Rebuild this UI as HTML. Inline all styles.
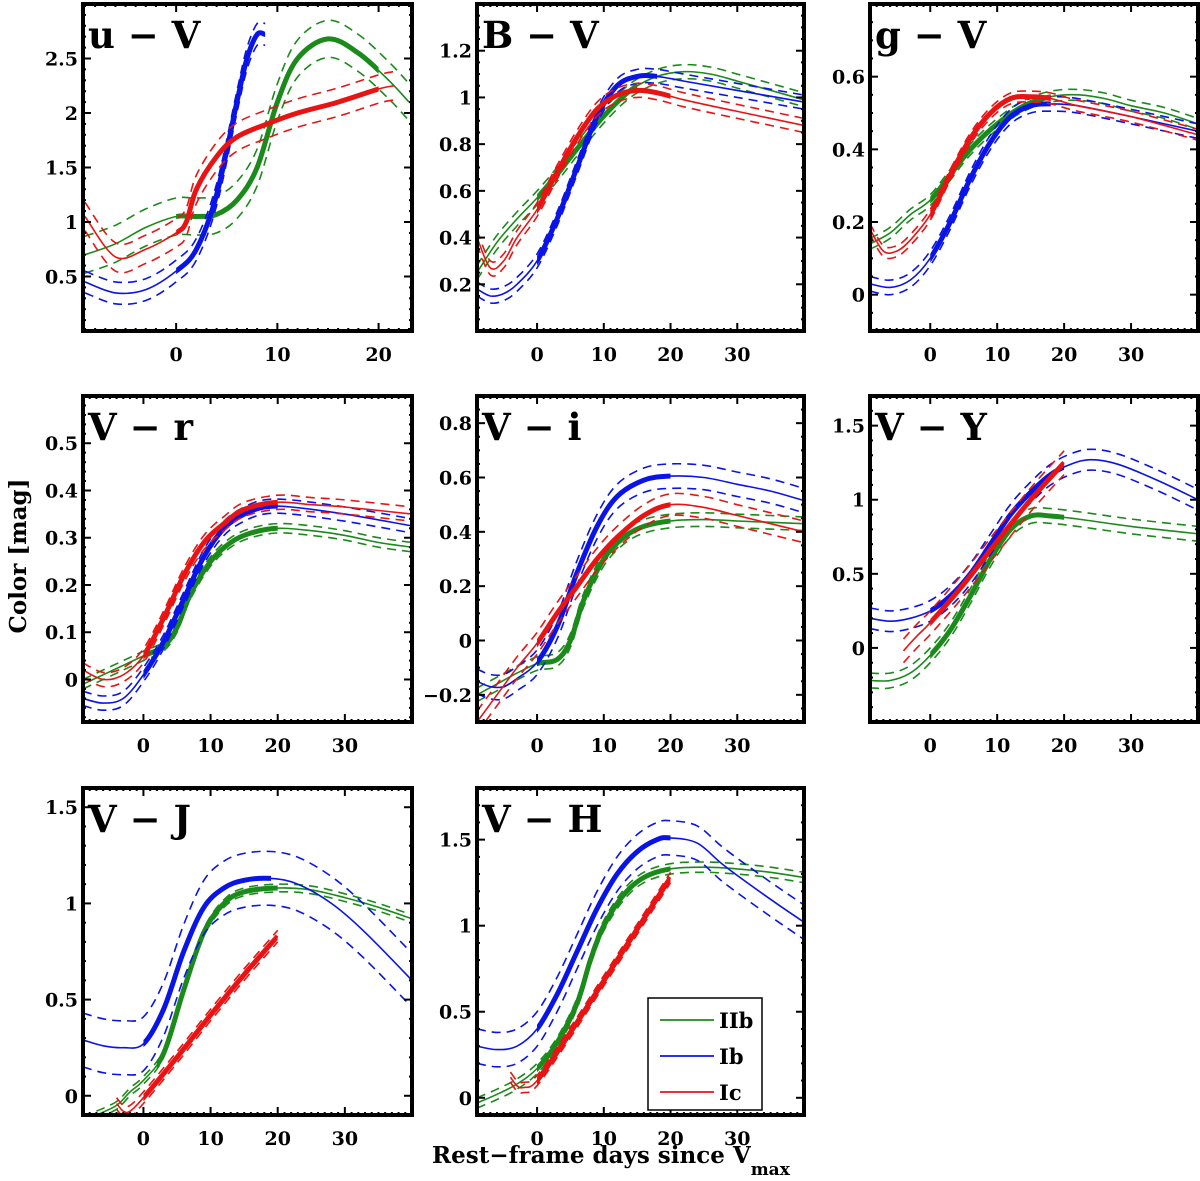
<!DOCTYPE html>
<html><head><meta charset="utf-8"><style>
html,body{margin:0;padding:0;background:#fff;}
svg{display:block;}
text{font-family:"DejaVu Serif","Liberation Serif",serif;font-weight:bold;fill:#000;}
</style></head><body>
<svg id="chart" width="1200" height="1181" viewBox="0 0 1200 1181">
<text x="26" y="556" transform="rotate(-90 26 556)" text-anchor="middle" font-size="23">Color [mag]</text>
<text x="432" y="1163" font-size="23">Rest−frame days since V<tspan font-size="17" dy="12">max</tspan></text>
</svg>
<script>
const panelNames = ["u − V","B − V","g − V","V − r","V − i","V − Y","V − J","V − H"];
const panelXRange = [[-9.2,23.3],[-9,40],[-9,40],[-9,40],[-9,40],[-9,40],[-9,40],[-9,40]];
const panelYRange = [[0,3],[0,1.4],[-0.1,0.8],[-0.09,0.6],[-0.3,0.9],[-0.5,1.7],[-0.1,1.6],[-0.1,1.8]];
const panelYTicks = [[0.5,1,1.5,2,2.5],[0.2,0.4,0.6,0.8,1,1.2],[0,0.2,0.4,0.6],[0,0.1,0.2,0.3,0.4,0.5],[-0.2,0,0.2,0.4,0.6,0.8],[0,0.5,1,1.5],[0,0.5,1,1.5],[0,0.5,1,1.5]];
const panelYTickLabels = [["0.5","1","1.5","2","2.5"],["0.2","0.4","0.6","0.8","1","1.2"],["0","0.2","0.4","0.6"],["0","0.1","0.2","0.3","0.4","0.5"],["−0.2","0","0.2","0.4","0.6","0.8"],["0","0.5","1","1.5"],["0","0.5","1","1.5"],["0","0.5","1","1.5"]];
const panelYMinor = [0.1,0.05,0.05,0.02,0.05,0.1,0.1,0.1];
const xTicks = [0,10,20,30];
const xTickLabels = ["0","10","20","30"];
const typeNames = ["IIb","Ib","Ic"];
const typeColors = ["#1a8a1a","#0a14e6","#e81414"];

const uV_days = [[-9,-6,-3,0,2,4,6,8,10,12,15,18,21,23],[-9,-6,-3,0,2,4,6,7,8,8.8],[-9,-6,-3,0,1,2,4,6,9,12,16,20,21.5]];
const uV_mean = [[0.7,0.8,0.95,1.05,1.05,1.07,1.2,1.5,2.1,2.5,2.68,2.55,2.3,2.1],[0.45,0.35,0.38,0.55,0.75,1.25,2.1,2.5,2.72,2.72],[1.05,0.68,0.75,0.9,1.0,1.3,1.6,1.78,1.9,2.0,2.1,2.22,2.25]];
const uV_err = [0.17,0.1,0.13];
const uV_thick = [[0,20],[0,8.8],[0,20]];

const BV_days = [[-9,-6,-3,0,3,6,10,14,18,22,26,30,35,40],[-9,-7,-5,-3,0,3,6,9,12,15,18,22,30,40],[-9,-7,-5,-3,0,3,6,9,12,15,18,22,30,40]];
const BV_mean = [[0.25,0.38,0.48,0.57,0.67,0.78,0.92,1.03,1.09,1.11,1.1,1.07,1.03,0.99],[0.18,0.15,0.16,0.2,0.3,0.48,0.7,0.92,1.05,1.09,1.09,1.07,1.03,0.98],[0.4,0.27,0.3,0.4,0.52,0.68,0.83,0.95,1.01,1.03,1.02,0.99,0.94,0.88]];
const BV_err = [0.03,0.03,0.03];
const BV_thick = [[0,15],[0,18],[0,20]];

const gV_days = [[-9,-6,-3,0,3,6,10,14,18,22,26,30,35,40],[-9,-6,-3,0,3,6,9,12,15,18,22,30,40],[-9,-7,-5,-3,0,3,6,9,12,15,18,22,30,40]];
const gV_mean = [[0.14,0.17,0.22,0.26,0.33,0.4,0.47,0.52,0.545,0.55,0.54,0.52,0.5,0.47],[0.03,0.02,0.04,0.1,0.2,0.32,0.42,0.49,0.52,0.525,0.52,0.49,0.45],[0.18,0.12,0.12,0.15,0.22,0.33,0.43,0.5,0.54,0.545,0.54,0.52,0.49,0.44]];
const gV_err = [0.015,0.02,0.015];
const gV_thick = [[0,18],[0,18],[0,18]];

const Vr_days = [[-9,-6,-3,0,3,5,7,10,13,16,20,25,30,35,40],[-9,-6,-3,0,3,6,9,12,15,18,22,30,40],[-9,-6,-3,0,3,6,9,12,15,20,25,30,40]];
const Vr_mean = [[-0.01,0.01,0.03,0.05,0.07,0.11,0.18,0.25,0.29,0.31,0.32,0.315,0.305,0.29,0.28],[-0.04,-0.05,-0.04,0.01,0.08,0.17,0.26,0.32,0.35,0.365,0.365,0.35,0.325],[0.02,0.0,0.01,0.05,0.13,0.22,0.29,0.33,0.36,0.375,0.37,0.365,0.35]];
const Vr_err = [0.01,0.015,0.015];
const Vr_thick = [[0,20],[0,20],[0,20]];

const Vi_days = [[-9,-6,-3,0,3,5,7,10,13,16,20,25,30,35,40],[-9,-7,-5,-3,0,3,6,9,12,16,20,25,30,35,40],[-9,-6,-3,0,3,6,9,12,16,20,25,30,35,40]];
const Vi_mean = [[-0.2,-0.16,-0.12,-0.085,-0.07,0.0,0.15,0.3,0.38,0.42,0.44,0.445,0.44,0.435,0.43],[-0.15,-0.17,-0.17,-0.14,-0.08,0.05,0.25,0.42,0.53,0.59,0.605,0.6,0.575,0.55,0.515],[-0.3,-0.2,-0.1,-0.01,0.1,0.2,0.3,0.38,0.46,0.5,0.49,0.46,0.43,0.4]];
const Vi_err = [0.025,0.045,0.04];
const Vi_thick = [[0,20],[0,20],[0,20]];

const VY_days = [[-9,-6,-3,0,3,6,9,12,15,18,22,30,40],[-9,-6,-3,0,3,6,9,12,15,18,21,24,28,34,40],[-4,-2,0,5,10,15,20]];
const VY_mean = [[-0.22,-0.22,-0.17,-0.05,0.12,0.35,0.6,0.8,0.89,0.89,0.87,0.82,0.77],[0.2,0.18,0.2,0.25,0.35,0.5,0.7,0.9,1.05,1.17,1.24,1.27,1.24,1.13,1.0],[-0.02,0.08,0.17,0.43,0.72,1.0,1.25]];
const VY_err = [0.05,0.07,0.08];
const VY_thick = [[0,20],[0,20],[0,20]];

const VJ_days = [[-7,-4,-2,0,3,6,9,12,15,20,25,30,35,40],[-9,-6,-3,0,3,6,9,12,15,19,23,28,33,40],[-4,-3,-2,0,5,10,15,20]];
const VJ_mean = [[-0.1,-0.05,0.02,0.08,0.22,0.55,0.85,1.0,1.06,1.08,1.07,1.03,0.98,0.92],[0.29,0.26,0.25,0.27,0.45,0.75,0.98,1.08,1.12,1.13,1.1,1.0,0.85,0.6],[-0.04,-0.08,-0.08,-0.01,0.2,0.42,0.63,0.83]];
const VJ_err = [0.02,0.14,0.03];
const VJ_thick = [[2,20],[0,19],[0,20]];

const VH_days = [[-9,-6,-3,0,3,6,8,10,13,16,20,25,30,35,40],[-9,-6,-3,0,3,6,9,12,15,18,20,24,28,34,40],[-4,-3,-2,0,5,10,15,20]];
const VH_mean = [[-0.03,0.02,0.08,0.17,0.32,0.55,0.8,1.0,1.18,1.28,1.33,1.34,1.33,1.31,1.28],[0.3,0.28,0.3,0.4,0.6,0.85,1.1,1.3,1.43,1.5,1.51,1.48,1.35,1.18,1.02],[0.12,0.07,0.06,0.1,0.38,0.68,0.98,1.28]];
const VH_err = [0.03,0.1,0.03];
const VH_thick = [[0,20],[0,20],[0,20]];

const allDays = [uV_days,BV_days,gV_days,Vr_days,Vi_days,VY_days,VJ_days,VH_days];
const allMean = [uV_mean,BV_mean,gV_mean,Vr_mean,Vi_mean,VY_mean,VJ_mean,VH_mean];
const allErr = [uV_err,BV_err,gV_err,Vr_err,Vi_err,VY_err,VJ_err,VH_err];
const allThick = [uV_thick,BV_thick,gV_thick,Vr_thick,Vi_thick,VY_thick,VJ_thick,VH_thick];

const colLeft = [83,477,870], colRight = [412,804,1198];
const rowTop = [4,396,788], rowBottom = [331,722,1115];
const NS = "http://www.w3.org/2000/svg";
const svg = document.getElementById('chart');
function mk(tag, attrs, parent){ const e=document.createElementNS(NS,tag); for(const k in attrs) e.setAttribute(k,attrs[k]); (parent||svg).appendChild(e); return e; }

function smoothPath(pts){
  if(pts.length<2) return "";
  let d = "M"+pts[0][0].toFixed(1)+","+pts[0][1].toFixed(1);
  for(let i=0;i<pts.length-1;i++){
    const p0=pts[Math.max(0,i-1)], p1=pts[i], p2=pts[i+1], p3=pts[Math.min(pts.length-1,i+2)];
    const c1x=p1[0]+(p2[0]-p0[0])/6, c1y=p1[1]+(p2[1]-p0[1])/6;
    const c2x=p2[0]-(p3[0]-p1[0])/6, c2y=p2[1]-(p3[1]-p1[1])/6;
    d+=" C"+c1x.toFixed(1)+","+c1y.toFixed(1)+" "+c2x.toFixed(1)+","+c2y.toFixed(1)+" "+p2[0].toFixed(1)+","+p2[1].toFixed(1);
  }
  return d;
}
const defs = mk('defs',{});

for(let p=0;p<8;p++){
  const r=Math.floor(p/3), c=p%3;
  const L=colLeft[c], R=colRight[c], T=rowTop[r], B=rowBottom[r];
  const [x0,x1]=panelXRange[p], [y0,y1]=panelYRange[p];
  const X=v=>L+(v-x0)/(x1-x0)*(R-L);
  const Y=v=>B-(v-y0)/(y1-y0)*(B-T);
  const g = mk('g',{});
  
  
  const cp = mk('clipPath',{id:'clip'+p},defs);
  mk('rect',{x:L,y:T,width:R-L,height:B-T},cp);
  const plot = mk('g',{'clip-path':'url(#clip'+p+')'},g);
  
  
  for(let t=0;t<3;t++){
    const days=allDays[p][t], mean=allMean[p][t], err=allErr[p][t], th=allThick[p][t];
    const col=typeColors[t];
    const sg = mk('g',{},plot);
    
    
    const mid = days.map((d,i)=>[X(d),Y(mean[i])]);
    const up = days.map((d,i)=>[X(d),Y(mean[i]+err)]);
    const lo = days.map((d,i)=>[X(d),Y(mean[i]-err)]);
    const e1=mk('path',{d:smoothPath(up),fill:'none',stroke:col,'stroke-width':1.6,'stroke-dasharray':'9,6'},sg);
    
    
    const e2=mk('path',{d:smoothPath(lo),fill:'none',stroke:col,'stroke-width':1.6,'stroke-dasharray':'9,6'},sg);
    
    
    const m=mk('path',{d:smoothPath(mid),fill:'none',stroke:col,'stroke-width':1.6},sg);
    
    
    const tc = mk('clipPath',{id:'th'+p+'_'+t},defs);
    mk('rect',{x:X(th[0]),y:T-10,width:X(th[1])-X(th[0]),height:B-T+20},tc);
    const tk=mk('path',{d:smoothPath(mid),fill:'none',stroke:col,'stroke-width':5,'clip-path':'url(#th'+p+'_'+t+')'},sg);
    
    
  }
  const tg = mk('g',{stroke:'#000','stroke-width':2},g);
  
  
  for(let d=Math.ceil(x0); d<=x1; d++){
    const major = d%10===0, len = major?8:3, xx=X(d);
    mk('line',{x1:xx,y1:B,x2:xx,y2:B-len},tg); mk('line',{x1:xx,y1:T,x2:xx,y2:T+len},tg);
  }
  const mn=panelYMinor[p];
  for(let k=Math.ceil(y0/mn-1e-6); k*mn<=y1+1e-9; k++){
    const v=k*mn, yy=Y(v);
    const major = panelYTicks[p].some(tv=>Math.abs(tv-v)<1e-6);
    const len = major?8:3;
    mk('line',{x1:L,y1:yy,x2:L+len,y2:yy},tg); mk('line',{x1:R,y1:yy,x2:R-len,y2:yy},tg);
  }
  const fr=mk('rect',{x:L,y:T,width:R-L,height:B-T,fill:'none',stroke:'#000','stroke-width':4},g);
  
  
  panelYTicks[p].forEach((v,i)=>{
    const tx=mk('text',{x:L-5,y:Y(v)+7,'text-anchor':'end','font-size':19},g);
    tx.textContent=panelYTickLabels[p][i];
    
    
  });
  xTicks.forEach((v,i)=>{
    if(v<x0||v>x1-2) return;
    const tx=mk('text',{x:X(v),y:B+30,'text-anchor':'middle','font-size':19},g);
    tx.textContent=xTickLabels[i];
    
    
  });
  const ti=mk('text',{x:L+5,y:T+44,'font-size':37},g);
  ti.textContent=panelNames[p];
  
  
}
const lg = mk('g',{});


const lr=mk('rect',{x:648,y:998,width:114,height:112,fill:'#fff',stroke:'#000','stroke-width':1.5},lg);


typeNames.forEach((n,i)=>{
  const yy=1020+i*36;
  const ln=mk('line',{x1:660,y1:yy,x2:714,y2:yy,stroke:typeColors[i],'stroke-width':1.8},lg);
  
  
  const tx=mk('text',{x:719,y:yy+8,'font-size':21},lg);
  tx.textContent=n;
  
  
});
</script>
</body></html>
